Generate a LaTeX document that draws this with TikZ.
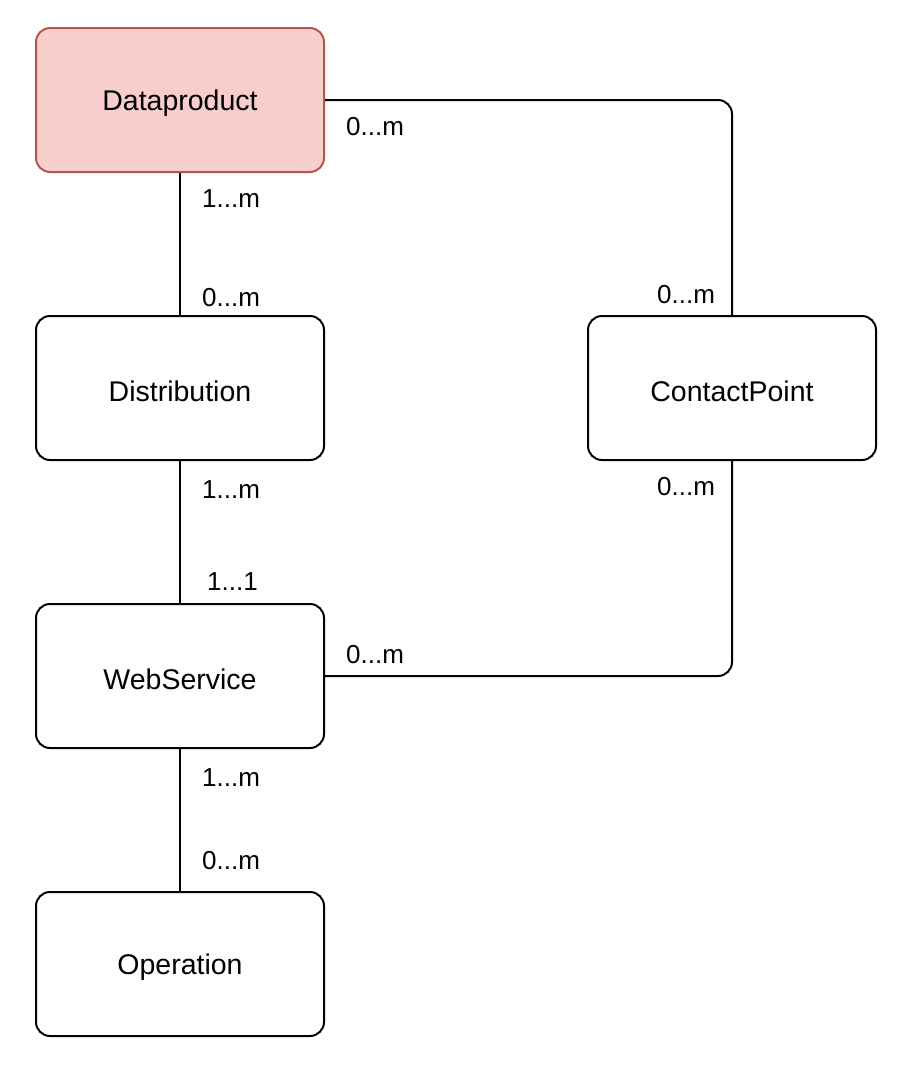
\documentclass[tikz,border=0pt]{standalone}
\usepackage{fontspec}
\setmainfont{Liberation Sans}
\begin{document}
\begin{tikzpicture}[x=1pt,y=-1pt,
  box/.style={draw=black,line width=2pt,rounded corners=14pt,minimum width=288pt,minimum height=144pt,fill=white,inner sep=0pt},
  boxtext/.style={font=\fontsize{28.5}{32}\selectfont,inner sep=0pt},
  red/.style={fill=redfill,draw=redline},
  lbl/.style={font=\fontsize{26}{30}\selectfont,inner sep=0pt,anchor=west},
  conn/.style={line width=2pt,rounded corners=14pt}]
\definecolor{redfill}{HTML}{F8CECC}
\definecolor{redline}{HTML}{B85450}
\useasboundingbox (0,0) rectangle (900,1066);
\node[box,red] (dp) at (180,100) {};
\node[box] (dist) at (180,388) {};
\node[box] (cp) at (732,388) {};
\node[box] (ws) at (180,676) {};
\node[box] (op) at (180,964) {};
\node[boxtext] (tdp) at ([yshift=-3pt]dp.center) {Dataproduct};
\node[boxtext] (tdist) at ([yshift=-3pt]dist.center) {Distribution};
\node[boxtext] (tcp) at ([yshift=-3pt]cp.center) {ContactPoint};
\node[boxtext] (tws) at ([yshift=-3pt]ws.center) {WebService};
\node[boxtext] (top) at ([yshift=-3pt]op.center) {Operation};
\draw[conn] (dp.south) -- (dist.north);
\draw[conn] (dist.south) -- (ws.north);
\draw[conn] (ws.south) -- (op.north);
\draw[conn] (dp.east) -| (cp.north);
\draw[conn] (ws.east) -| (cp.south);
\node[lbl] (l1) at (202,199) {1...m};
\node[lbl] (l2) at (202,298) {0...m};
\node[lbl] (l3) at (346,127) {0...m};
\node[lbl] (l4) at (657,295) {0...m};
\node[lbl] (l5) at (202,490) {1...m};
\node[lbl] (l6) at (207,582) {1...1};
\node[lbl] (l7) at (657,487) {0...m};
\node[lbl] (l8) at (346,655) {0...m};
\node[lbl] (l9) at (202,778) {1...m};
\node[lbl] (l10) at (202,861) {0...m};
\end{tikzpicture}
\end{document}
